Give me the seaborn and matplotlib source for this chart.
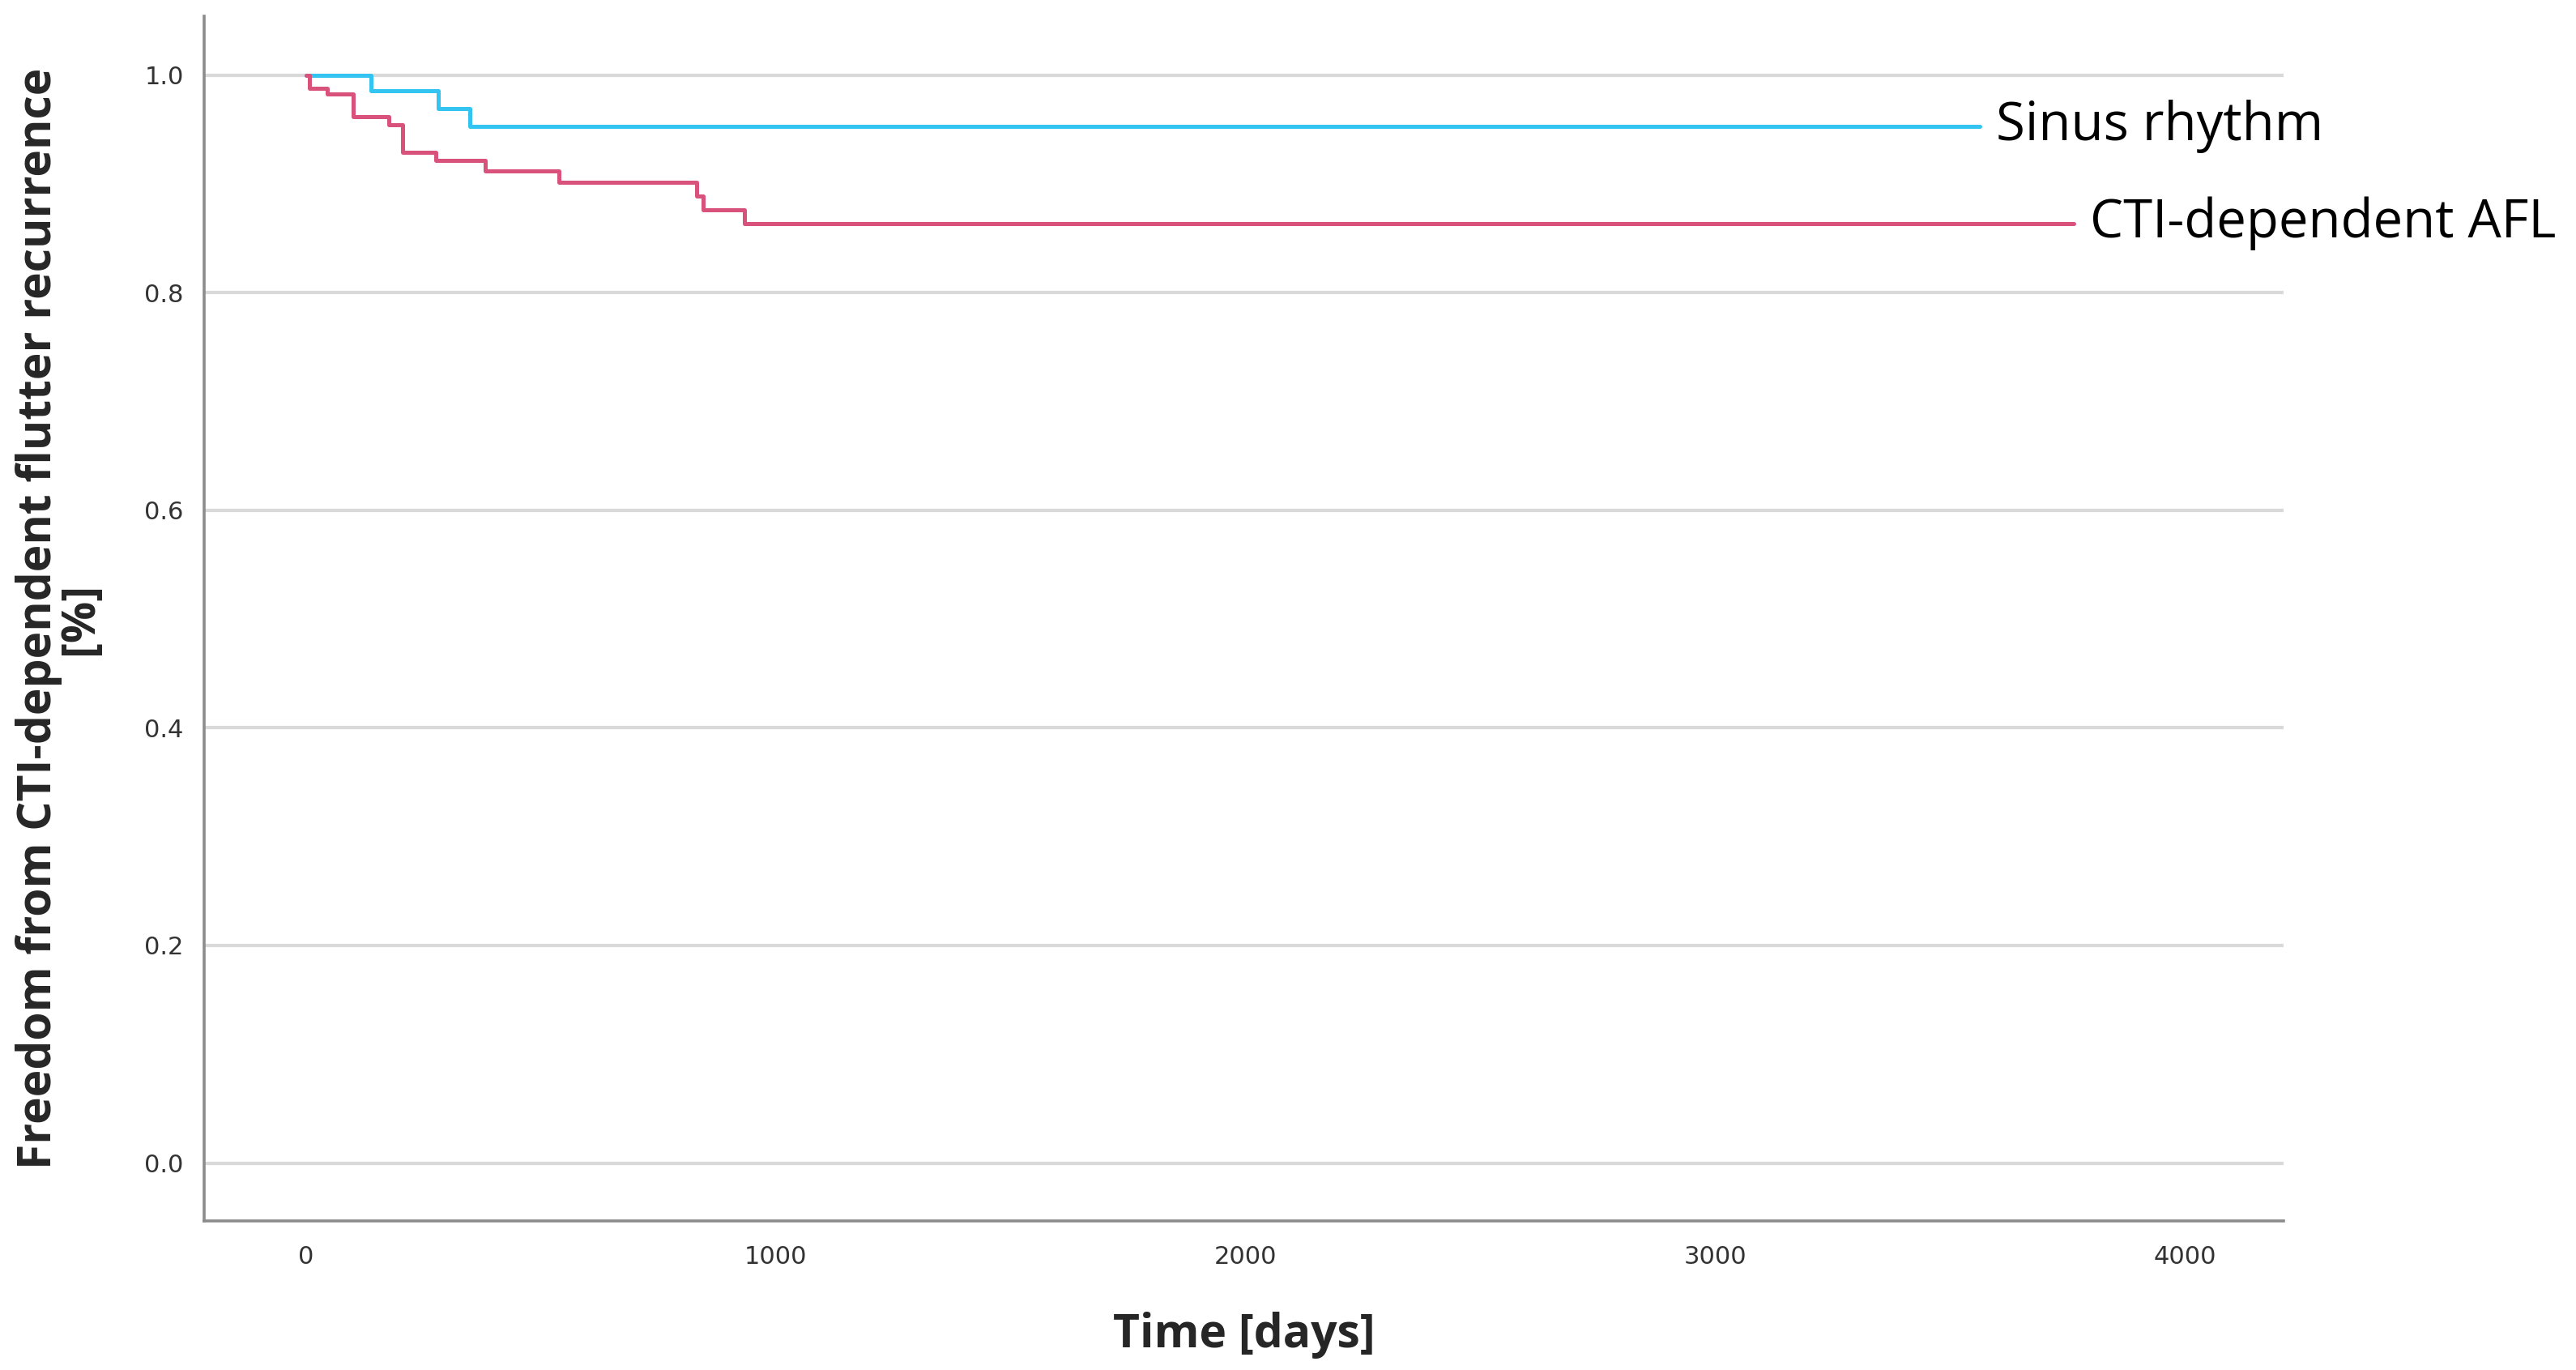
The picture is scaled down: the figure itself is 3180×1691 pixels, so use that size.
import pandas as pd
import matplotlib
matplotlib.use("Agg")
import matplotlib.pyplot as plt
import seaborn as sns

# Kaplan-Meier steps
sinus_days = [0, 139, 282, 349, 3563]
sinus_surv = [1.0, 0.9857, 0.9696, 0.953, 0.953]

afl_days = [0, 8, 46, 101, 176, 206, 277, 381, 538, 832, 845, 934, 3762]
afl_surv = [1.0, 0.9877, 0.983, 0.9617, 0.9543, 0.9289, 0.9215, 0.9123,
            0.9012, 0.889, 0.8765, 0.8637, 0.8637]

groups = ["Sinus rhythm", "CTI-dependent AFL"]
colors = {"Sinus rhythm": "#33c4f2", "CTI-dependent AFL": "#d9527c"}

x_ticks = [0, 1000, 2000, 3000, 4000]
y_ticks = [0.0, 0.2, 0.4, 0.6, 0.8, 1.0]

data = pd.concat([
    pd.DataFrame({"days": sinus_days, "surv": sinus_surv, "group": groups[0]}),
    pd.DataFrame({"days": afl_days, "surv": afl_surv, "group": groups[1]}),
])

sns.set_theme(style="white")
plt.rcParams["font.family"] = ["Open Sans", "DejaVu Sans"]

fig = plt.figure(figsize=(15.9, 8.455), dpi=200)
ax = fig.add_axes([0.0792, 0.109, 0.8074, 0.879])

ax.set_yticks(y_ticks)
ax.yaxis.grid(True, color="#d9d9d9", linewidth=1.5)
ax.set_axisbelow(True)

sns.lineplot(data=data, x="days", y="surv", hue="group", palette=colors,
             estimator=None, drawstyle="steps-post", linewidth=1.8,
             legend=False, ax=ax)

# end labels
for days, surv, name in [(sinus_days, sinus_surv, groups[0]),
                         (afl_days, afl_surv, groups[1])]:
    ax.text(days[-1] + 35, surv[-1], name, fontsize=23.5, va="center",
            ha="left", color="black", clip_on=False)

ax.set_xlim(-217, 4210)
ax.set_ylim(-0.053, 1.054)
ax.set_xticks(x_ticks)
ax.set_xticklabels([str(t) for t in x_ticks])
ax.set_yticklabels([f"{t:.1f}" for t in y_ticks])
ax.tick_params(axis="both", length=0, labelsize=11, labelcolor="#333333",
               labelfontfamily="DejaVu Sans")
ax.tick_params(axis="x", pad=11)
ax.tick_params(axis="y", pad=9)

ax.set_xlabel("Time [days]", fontsize=20.5, fontweight="bold", labelpad=19)
ax.set_ylabel("Freedom from CTI-dependent flutter recurrence\n[%]",
              fontsize=20.5, fontweight="bold", labelpad=18, linespacing=0.85)

for side in ["top", "right"]:
    ax.spines[side].set_visible(False)
for side in ["left", "bottom"]:
    ax.spines[side].set_color("#8c8c8c")
    ax.spines[side].set_linewidth(1.3)

fig.savefig("out.png", dpi=200)
